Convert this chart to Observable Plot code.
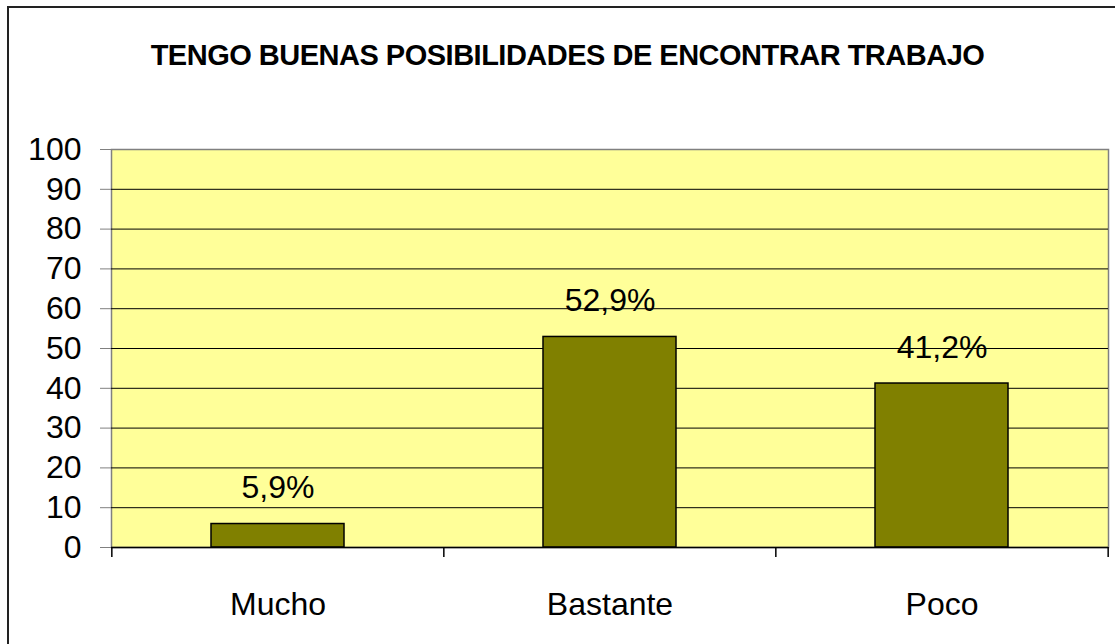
<!DOCTYPE html>
<html><head><meta charset="utf-8">
<script src="https://cdn.jsdelivr.net/npm/d3@7"></script>
<script src="https://cdn.jsdelivr.net/npm/@observablehq/plot@0.6"></script>
<style>
body{margin:0;background:#fff;overflow:hidden;font-family:"Liberation Sans",Arial,sans-serif;}
#wrap{position:relative;width:1115px;height:644px;overflow:hidden;}
#border{position:absolute;left:7px;top:6px;width:1120px;height:660px;border:2px solid #222;box-sizing:border-box;}
#title{position:absolute;left:0;top:41px;width:1135px;text-align:center;font-weight:bold;font-size:29px;letter-spacing:-0.5px;line-height:29px;color:#000;}
#chart{position:absolute;left:0;top:0;}
</style></head><body>
<div id="wrap"><div id="border"></div><div id="title"></div><div id="chart"></div></div>
<script>
const titleText = "TENGO BUENAS POSIBILIDADES DE ENCONTRAR TRABAJO";
const categories = ["Mucho", "Bastante", "Poco"];
const values = [5.9, 52.9, 41.2];
const yTicks = [0, 10, 20, 30, 40, 50, 60, 70, 80, 90, 100];

document.getElementById("title").textContent = titleText;

const data = categories.map((c, i) => ({
  category: c,
  value: values[i],
  label: values[i].toFixed(1).replace(".", ",") + "%"
}));

const W = 1115, H = 644, mL = 111, mR = 7, mT = 149, mB = 97;
const step = (W - mL - mR) / categories.length;
const font = '"Liberation Sans", Arial, sans-serif';
const fs = 32;

const chart = Plot.plot({
  width: W, height: H,
  marginTop: mT, marginBottom: mB, marginLeft: mL, marginRight: mR,
  style: {fontFamily: font, fontSize: fs + "px", background: "transparent", color: "#000"},
  x: {type: "band", domain: categories, paddingInner: 0.6, paddingOuter: 0.3, label: null, axis: null},
  y: {domain: [0, 100], label: null, axis: null},
  marks: [
    Plot.frame({fill: "#FFFF99", stroke: "#808080", strokeWidth: 1.5}),
    Plot.ruleY(yTicks.filter(t => t > 0 && t < 100), {stroke: "#000", strokeWidth: 1}),
    Plot.barY(data, {x: "category", y: "value", fill: "#808000", stroke: "#000", strokeWidth: 1.5}),
    Plot.text(data, {x: "category", y: "value", text: "label", dy: -36, fill: "#000", fontSize: fs}),
    Plot.ruleY([0], {stroke: "#000", strokeWidth: 1.5}),
    Plot.axisY({ticks: yTicks, tickSize: 11, tickPadding: 19, stroke: "#808080", fill: "#000", fontSize: fs, label: null}),
    Plot.axisX({tickSize: 0, tickPadding: 45, label: null, fontSize: fs, fill: "#000"}),
    Plot.ruleX(categories, {x: d => d, dx: -step / 2, y1: 0, y2: -2.5, stroke: "#000", strokeWidth: 1.5}),
    Plot.ruleX(categories.slice(-1), {x: d => d, dx: step / 2, y1: 0, y2: -2.5, stroke: "#000", strokeWidth: 1.5})
  ]
});
document.getElementById("chart").appendChild(chart);
</script>
</body></html>
